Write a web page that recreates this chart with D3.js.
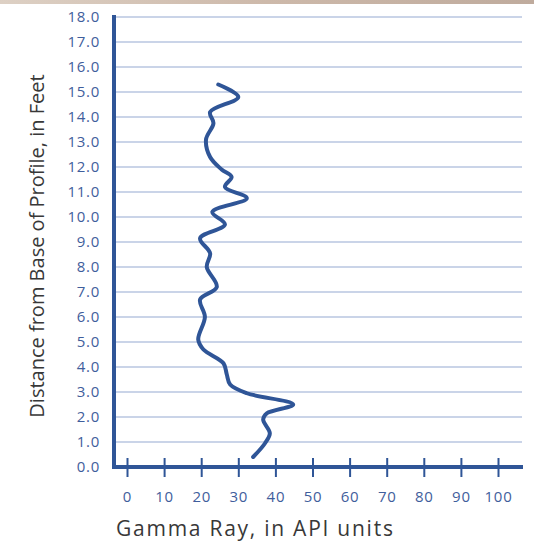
<!DOCTYPE html>
<html><head><meta charset="utf-8">
<script src="https://cdn.jsdelivr.net/npm/d3@7"></script>
<style>body{margin:0;background:#fff;}svg{display:block;}</style>
</head><body>
<svg id="c" width="534" height="542"></svg>
<script>
const depthTicks = [0,1,2,3,4,5,6,7,8,9,10,11,12,13,14,15,16,17,18];
const gammaTicks = [0,10,20,30,40,50,60,70,80,90,100];
const depth = [15.3,14.8,14.2,13.75,13.1,12.4,11.9,11.6,11.2,10.75,10.2,9.7,9.15,8.55,8.0,7.2,6.7,6.0,5.1,4.7,4.15,3.7,3.3,2.95,2.5,2.15,1.9,1.35,0.95,0.4];
const gamma = [24.6,30.0,22.4,23.3,21.3,22.4,25.5,28.2,26.4,32.3,23.0,26.4,19.7,22.4,21.5,24.2,19.7,21.0,19.2,20.6,26.0,26.9,27.8,32.3,44.8,37.7,36.7,38.5,37.2,34.0];

const svg = d3.select("#c");
const blue = "#2f5597", grid = "#b9c6e0", lab = "#3f5e9c";
const x = d3.scaleLinear().domain([0,100]).range([127,498]);
const y = d3.scaleLinear().domain([0,18]).range([467,17]);

// top stripe
const g0 = svg.append("defs").append("linearGradient").attr("id","tg");
g0.append("stop").attr("offset","0%").attr("stop-color","#ddd0c4");
g0.append("stop").attr("offset","50%").attr("stop-color","#cdb9aa");
g0.append("stop").attr("offset","100%").attr("stop-color","#bfab9d");
svg.append("rect").attr("x",0).attr("y",0).attr("width",534).attr("height",4).attr("fill","url(#tg)");

// gridlines
svg.append("g").selectAll("line").data(depthTicks.filter(d=>d>0)).join("line")
  .attr("x1",115).attr("x2",522).attr("y1",d=>y(d)).attr("y2",d=>y(d))
  .attr("stroke",grid).attr("stroke-width",1.5);

// y axis
const ya = svg.append("g").attr("transform","translate(114,0)")
  .call(d3.axisLeft(y).tickValues(depthTicks).tickFormat(d3.format(".1f")).tickSize(0).tickPadding(14));
ya.select(".domain").remove();
ya.selectAll("text").attr("fill",lab).attr("font-family","Open Sans").attr("font-size",15).attr("letter-spacing",0.7);
svg.append("line").attr("x1",114).attr("x2",114).attr("y1",15).attr("y2",469)
  .attr("stroke",blue).attr("stroke-width",4);

// x axis
const xa = svg.append("g").attr("transform","translate(0,467)")
  .call(d3.axisBottom(x).tickValues(gammaTicks).tickSize(10).tickPadding(14));
xa.select(".domain").remove();
xa.selectAll(".tick line").attr("stroke",blue).attr("stroke-width",2).attr("y1",-9);
xa.selectAll("text").attr("fill",lab).attr("font-family","Open Sans").attr("font-size",15).attr("letter-spacing",0.7);
svg.append("line").attr("x1",112).attr("x2",523).attr("y1",467).attr("y2",467)
  .attr("stroke",blue).attr("stroke-width",4);

// curve
const pts = depth.map((d,i)=>[gamma[i],d]);
svg.append("path").datum(pts)
  .attr("d", d3.line().x(d=>x(d[0])).y(d=>y(d[1])).curve(d3.curveCatmullRom.alpha(0.5)))
  .attr("fill","none").attr("stroke",blue).attr("stroke-width",4).attr("stroke-linecap","round");

// titles
svg.append("text").attr("x",116).attr("y",536).attr("fill","#383838")
  .attr("font-family","Open Sans").attr("font-size",21).attr("letter-spacing",1.75).text("Gamma Ray, in API units");
svg.append("text").attr("transform","translate(44,246) rotate(-90)").attr("text-anchor","middle")
  .attr("fill","#383838").attr("font-family","Open Sans").attr("font-size",20)
  .text("Distance from Base of Profile, in Feet");
</script>
</body></html>
